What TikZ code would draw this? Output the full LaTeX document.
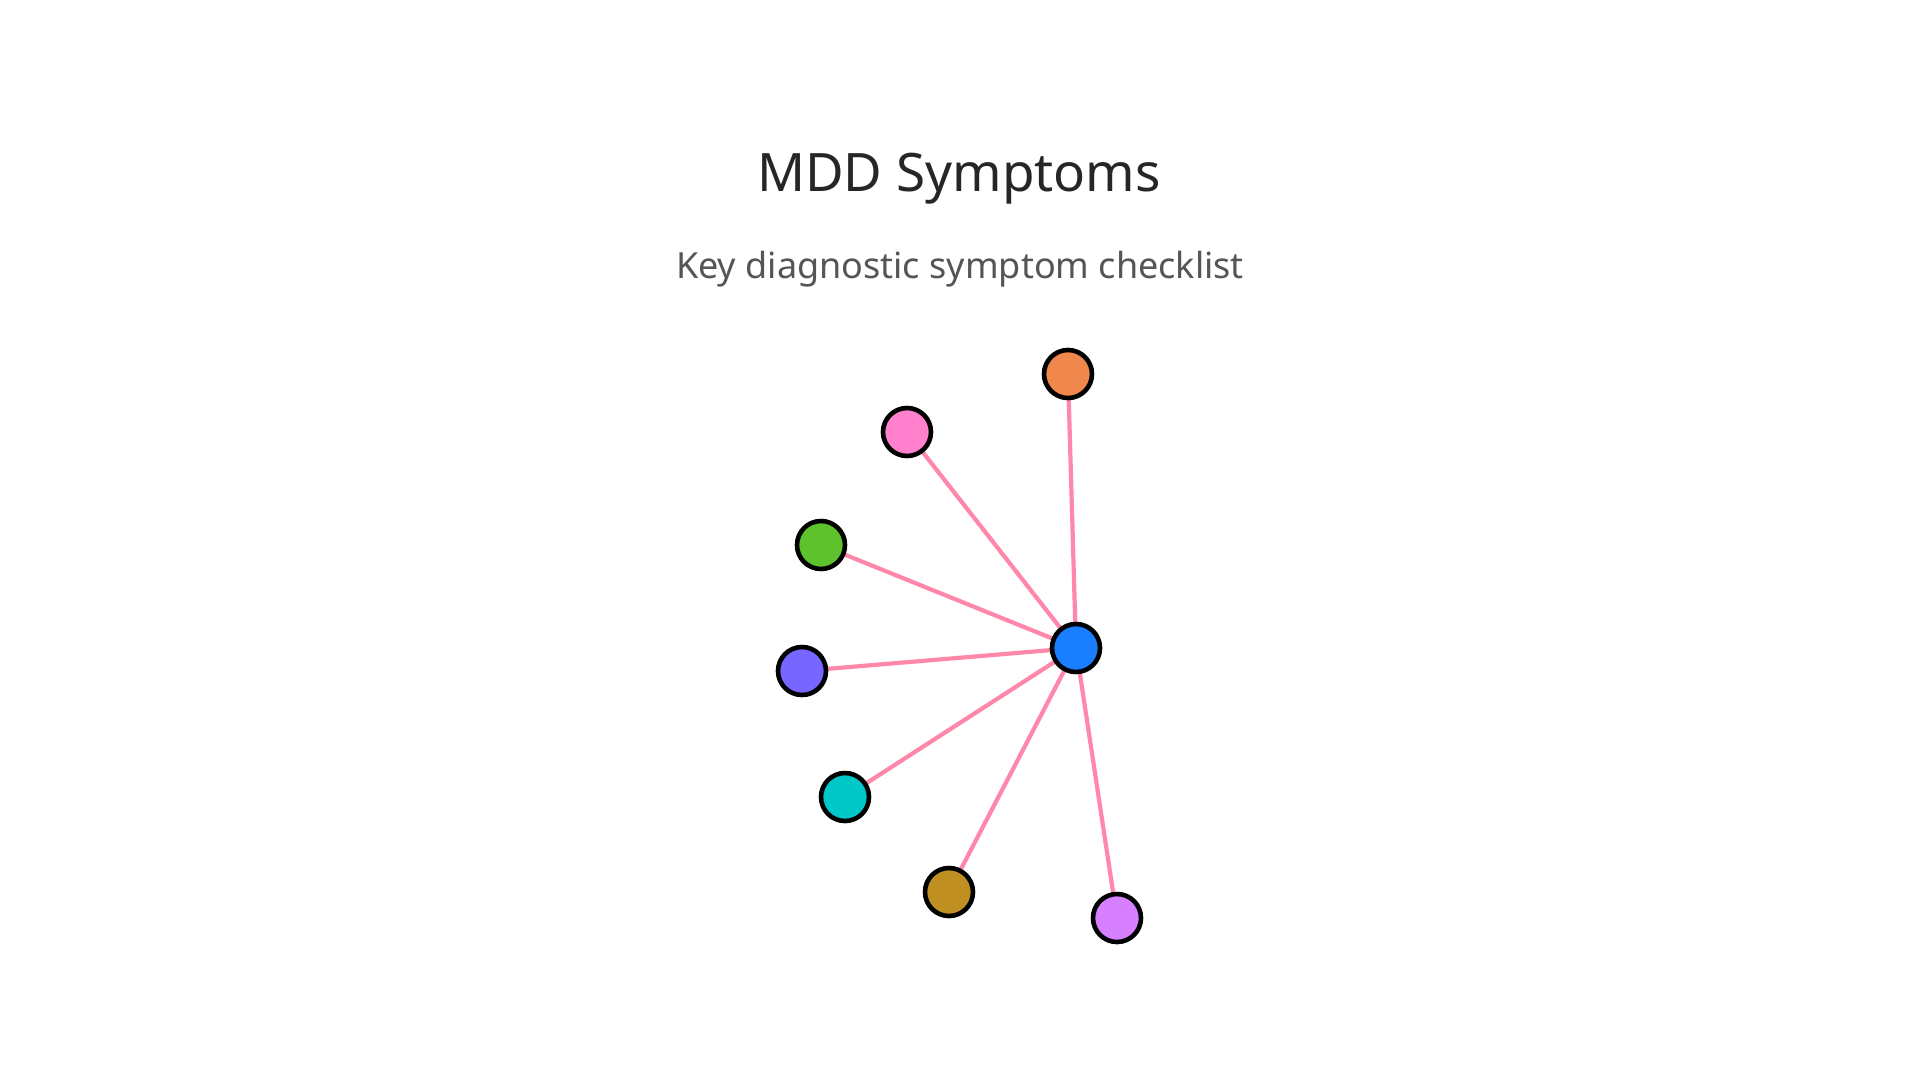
\documentclass[tikz,border=0pt]{standalone}
\usepackage{fontspec}
\setmainfont{Noto Sans}
\begin{document}
\begin{tikzpicture}[x=1pt,y=-1pt,
  dot/.style={circle,draw=black,line width=4.6pt,minimum size=48pt,inner sep=0pt},
  link/.style={draw=edgepink,line width=4.2pt},
  title/.style={text=titlegray,font=\fontsize{53}{60}\selectfont},
  subtitle/.style={text=subgray,font=\fontsize{36}{42}\selectfont}]
\definecolor{edgepink}{HTML}{FF88AA}
\definecolor{titlegray}{HTML}{262626}
\definecolor{subgray}{HTML}{555555}
\definecolor{cblue}{HTML}{1A7FFF}
\definecolor{corange}{HTML}{F0884D}
\definecolor{cpink}{HTML}{FF80CC}
\definecolor{cgreen}{HTML}{5EC22C}
\definecolor{cpurple}{HTML}{7766FF}
\definecolor{ccyan}{HTML}{00C8C8}
\definecolor{cbrown}{HTML}{BF8F22}
\definecolor{cviolet}{HTML}{D680FF}
\fill[white] (0,0) rectangle (1920,1080);
\useasboundingbox (0,0) rectangle (1920,1080);
\node[title] (t) at (959,179) {MDD Symptoms};
\node[subtitle] (s) at (960,269) {Key diagnostic symptom checklist};
\coordinate (pc) at (1076,648);
\coordinate (p1) at (1068,374);
\coordinate (p2) at (907,432);
\coordinate (p3) at (821,545);
\coordinate (p4) at (802,671);
\coordinate (p5) at (845,797);
\coordinate (p6) at (949,892);
\coordinate (p7) at (1117,918);
\foreach \n in {p1,p2,p3,p4,p5,p6,p7} {\draw[link] (pc) -- (\n);}
\node[dot,fill=cblue] (c) at (pc) {};
\node[dot,fill=corange] (n1) at (p1) {};
\node[dot,fill=cpink] (n2) at (p2) {};
\node[dot,fill=cgreen] (n3) at (p3) {};
\node[dot,fill=cpurple] (n4) at (p4) {};
\node[dot,fill=ccyan] (n5) at (p5) {};
\node[dot,fill=cbrown] (n6) at (p6) {};
\node[dot,fill=cviolet] (n7) at (p7) {};
\end{tikzpicture}
\end{document}
